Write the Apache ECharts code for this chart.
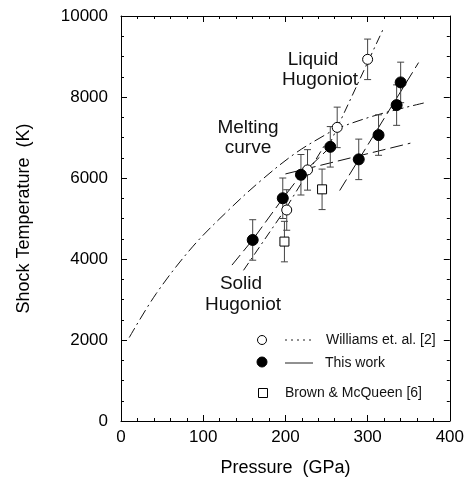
<!DOCTYPE html>
<html>
<head>
<meta charset="utf-8">
<script src="https://cdn.jsdelivr.net/npm/echarts@6/dist/echarts.min.js"></script>
<style>
html,body{margin:0;padding:0;background:#fff;}
#c{width:467px;height:486px;}
</style>
</head>
<body>
<div id="c"></div>
<script>
// ---------- data ----------
const xTicks = [0, 100, 200, 300, 400];
const yTicks = [0, 2000, 4000, 6000, 8000, 10000];

// Williams et al. [2] (open circles)
const williamsP = [201.6, 226.9, 263.0, 300.0];
const williamsT = [5210, 6200, 7250, 8930];
const williamsErr = [500, 500, 500, 500];

// This work (filled circles)
const thisP = [160.2, 196.8, 218.9, 254.6, 289.2, 313.3, 335.3, 340.2];
const thisT = [4470, 5500, 6080, 6770, 6460, 7060, 7800, 8360];
const thisErr = [500, 500, 500, 500, 500, 500, 500, 500];

// Brown & McQueen [6] (open squares)
const brownP = [198.8, 244.6];
const brownT = [4430, 5720];
const brownErr = [500, 500];

// Melting curve (Williams, dash-dot)
const meltP = [10, 43, 87, 131, 171, 212, 248, 264, 312, 370];
const meltT = [2060, 3150, 4300, 5210, 5950, 6610, 7060, 7230, 7560, 7860];

// Liquid Hugoniot (Williams, dash-dot)
const liqWP = [252, 319];
const liqWT = [6760, 9680];

// Solid Hugoniot (Williams)
const solWP = [149, 200, 248];
const solWT = [3720, 5230, 6820];

// Solid Hugoniot (this work)
const solTP = [135, 160, 197, 219, 258];
const solTT = [3850, 4470, 5500, 6080, 6830];

// Melting line (this work)
const meltTP = [200, 352];
const meltTT = [6100, 6860];

// Liquid Hugoniot (this work)
const liqTP = [266, 362];
const liqTT = [5690, 8850];

// ---------- helpers ----------
const zip = (a, b) => a.map((v, i) => [v, b[i]]);
const errData = (p, t, e) => p.map((v, i) => [v, t[i] - e[i], t[i] + e[i]]);
const FONT = '"Liberation Sans", Arial, Helvetica, sans-serif';

const chart = echarts.init(document.getElementById('c'), null, {renderer: 'canvas'});

function axis(extra, split) {
  return Object.assign({
    type: 'value',
    axisLine: {show: true, onZero: false, lineStyle: {color: '#000', width: 1}},
    axisTick: {show: true, inside: true, length: 6, lineStyle: {color: '#000', width: 1}},
    minorTick: {show: true, splitNumber: split, length: 3, lineStyle: {color: '#000', width: 1}},
    splitLine: {show: false},
    minorSplitLine: {show: false}
  }, extra);
}

function lineSeries(p, t, dash, smooth) {
  return {
    type: 'line', data: zip(p, t), showSymbol: false, symbol: 'none',
    smooth: smooth ? 0.35 : false,
    lineStyle: {color: '#111', width: 1, type: dash},
    silent: true, z: 2, animation: false
  };
}

function errSeries(p, t, e) {
  return {
    type: 'custom', z: 3, silent: true, animation: false,
    data: errData(p, t, e),
    encode: {x: 0, y: [1, 2]},
    renderItem: function (params, api) {
      const x = api.value(0), lo = api.value(1), hi = api.value(2);
      const a = api.coord([x, lo]), b = api.coord([x, hi]);
      const w = 3.5;
      const st = {stroke: '#444', lineWidth: 1};
      return {type: 'group', children: [
        {type: 'line', shape: {x1: a[0], y1: a[1], x2: b[0], y2: b[1]}, style: st},
        {type: 'line', shape: {x1: a[0] - w, y1: a[1], x2: a[0] + w, y2: a[1]}, style: st},
        {type: 'line', shape: {x1: b[0] - w, y1: b[1], x2: b[0] + w, y2: b[1]}, style: st}
      ]};
    }
  };
}

const DASHDOT = [9, 4, 2, 4];
const LONGDASH = [13, 5];
const txt = (x, y, s, size, align) => ({
  type: 'text', x: x, y: y, z: 10,
  style: {text: s, font: size + 'px ' + FONT, fill: '#111', align: align || 'center', verticalAlign: 'middle'}
});

const option = {
  animation: false,
  backgroundColor: '#fff',
  textStyle: {fontFamily: FONT, color: '#000'},
  grid: {left: 121, right: 14, top: 16, bottom: 65, containLabel: false},
  xAxis: [
    axis({
      min: xTicks[0], max: xTicks[xTicks.length - 1], interval: 100, position: 'bottom',
      axisLabel: {color: '#000', fontSize: 17, margin: 8, fontFamily: FONT},
      name: 'Pressure  (GPa)', nameLocation: 'middle', nameGap: 38,
      nameTextStyle: {fontSize: 18, color: '#000', fontFamily: FONT}
    }, 5),
    axis({
      min: xTicks[0], max: xTicks[xTicks.length - 1], interval: 100, position: 'top',
      axisLabel: {show: false}
    }, 5)
  ],
  yAxis: [
    axis({
      min: yTicks[0], max: yTicks[yTicks.length - 1], interval: 2000, position: 'left',
      axisLabel: {color: '#000', fontSize: 17, margin: 13, fontFamily: FONT, formatter: v => String(v)},
      name: 'Shock Temperature  (K)', nameLocation: 'middle', nameGap: 88,
      nameTextStyle: {fontSize: 18, color: '#000', fontFamily: FONT}
    }, 4),
    axis({
      min: yTicks[0], max: yTicks[yTicks.length - 1], interval: 2000, position: 'right',
      axisLabel: {show: false}
    }, 4)
  ],
  series: [
    lineSeries(meltP, meltT, [11, 4, 2, 4], true),
    lineSeries(liqWP, liqWT, DASHDOT, false),
    lineSeries(solWP, solWT, DASHDOT, false),
    lineSeries(solTP, solTT, LONGDASH, false),
    lineSeries(meltTP, meltTT, LONGDASH, false),
    lineSeries(liqTP, liqTT, LONGDASH, false),
    errSeries(williamsP, williamsT, williamsErr),
    errSeries(thisP, thisT, thisErr),
    errSeries(brownP, brownT, brownErr),
    {
      name: 'Williams et. al. [2]', type: 'scatter', z: 5, data: zip(williamsP, williamsT),
      symbol: 'circle', symbolSize: 10,
      itemStyle: {color: '#fff', borderColor: '#000', borderWidth: 1, opacity: 1}
    },
    {
      name: 'This work', type: 'scatter', z: 5, data: zip(thisP, thisT),
      symbol: 'circle', symbolSize: 11,
      itemStyle: {color: '#000', borderColor: '#000', borderWidth: 1, opacity: 1}
    },
    {
      name: 'Brown & McQueen [6]', type: 'scatter', z: 5, data: zip(brownP, brownT),
      symbol: 'rect', symbolSize: 9,
      itemStyle: {color: '#fff', borderColor: '#000', borderWidth: 1, opacity: 1}
    }
  ],
  graphic: [
    txt(313, 60, 'Liquid', 19),
    txt(320, 80, 'Hugoniot', 19),
    txt(248, 128, 'Melting', 19),
    txt(248, 148, 'curve', 19),
    txt(241, 284, 'Solid', 19),
    txt(243, 305, 'Hugoniot', 19),
    // legend
    {type: 'circle', shape: {cx: 262, cy: 340, r: 4.5}, style: {fill: '#fff', stroke: '#000', lineWidth: 1}, z: 10},
    {type: 'line', shape: {x1: 285, y1: 340, x2: 312, y2: 340}, style: {stroke: '#222', lineWidth: 1, lineDash: [2, 4]}, z: 10},
    txt(326, 340, 'Williams et. al. [2]', 14, 'left'),
    {type: 'circle', shape: {cx: 262, cy: 362, r: 5}, style: {fill: '#000', stroke: '#000', lineWidth: 1}, z: 10},
    {type: 'line', shape: {x1: 285, y1: 363, x2: 313, y2: 363}, style: {stroke: '#222', lineWidth: 1}, z: 10},
    txt(325, 363, 'This work', 14, 'left'),
    {type: 'rect', shape: {x: 258.5, y: 388.5, width: 9, height: 9}, style: {fill: '#fff', stroke: '#000', lineWidth: 1}, z: 10},
    txt(285, 393, 'Brown & McQueen [6]', 14, 'left')
  ]
};

chart.setOption(option);
</script>
</body>
</html>
